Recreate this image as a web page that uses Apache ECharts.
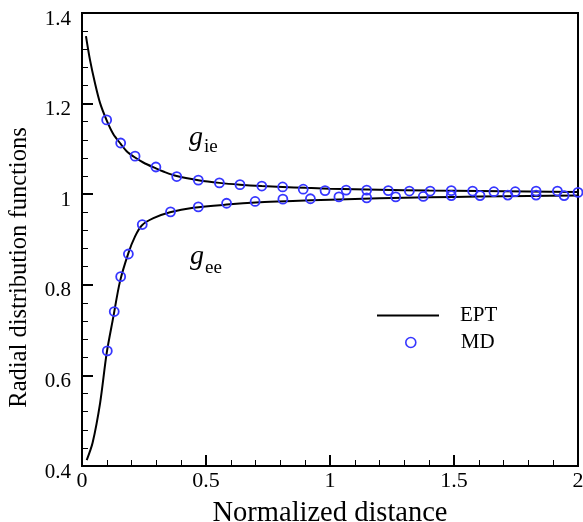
<!DOCTYPE html>
<html><head><meta charset="utf-8">
<script src="https://cdn.jsdelivr.net/npm/echarts@6/dist/echarts.min.js"></script>
<style>html,body{margin:0;padding:0;background:#fff}#c{width:583px;height:522px}</style>
</head><body><div id="c"></div>
<script>
// EPT curve for g_ie
const eptIeX = [0.016,0.032,0.052,0.073,0.0995,0.126,0.156,0.180,0.214,0.247,0.298,0.328,0.382,0.469,0.554,0.637,0.725,0.809,0.9,1.0,1.2,1.4,1.6,1.8,2.0];
const eptIeY = [1.349,1.297,1.246,1.201,1.163,1.133,1.111,1.095,1.081,1.070,1.057,1.050,1.040,1.031,1.025,1.021,1.018,1.016,1.014,1.012,1.010,1.008,1.007,1.006,1.005];
// EPT curve for g_ee
const eptEeX = [0.019,0.043,0.073,0.0995,0.126,0.153,0.187,0.214,0.241,0.288,0.355,0.449,0.583,0.718,0.85,1.0,1.2,1.4,1.6,1.8,2.0];
const eptEeY = [0.413,0.452,0.539,0.649,0.728,0.807,0.870,0.907,0.931,0.947,0.960,0.970,0.977,0.982,0.985,0.988,0.991,0.993,0.995,0.996,0.997];
// MD points for g_ie
const mdIeX = [0.0995,0.156,0.214,0.298,0.382,0.469,0.554,0.637,0.725,0.809,0.892,0.980,1.065,1.148,1.235,1.320,1.404,1.489,1.575,1.661,1.747,1.831,1.917,2.0];
const mdIeY = [1.164,1.113,1.084,1.060,1.039,1.031,1.025,1.021,1.018,1.016,1.011,1.008,1.009,1.009,1.008,1.007,1.007,1.008,1.007,1.0055,1.0055,1.007,1.007,1.004];
// MD points for g_ee
const mdEeX = [0.102,0.130,0.156,0.187,0.243,0.357,0.469,0.583,0.698,0.810,0.921,1.036,1.148,1.265,1.376,1.489,1.605,1.717,1.831,1.944];
const mdEeY = [0.654,0.741,0.818,0.868,0.933,0.961,0.972,0.980,0.984,0.989,0.990,0.994,0.992,0.994,0.995,0.997,0.997,0.998,0.998,0.997];
// tick labels
const xTickLabels = {0:'0',0.5:'0.5',1:'1',1.5:'1.5',2:'2'};
const yTickLabels = {0.4:'0.4',0.6:'0.6',0.8:'0.8',1:'1',1.2:'1.2',1.4:'1.4'};

const zip = (xs, ys) => xs.map((x, i) => [x, ys[i]]);
const FONT = '"Liberation Serif", "Times New Roman", serif';
const BLUE = '#3636ff';

const chart = echarts.init(document.getElementById('c'));
chart.setOption({
  animation: false,
  backgroundColor: '#fff',
  grid: {left: 82, right: 5, top: 13, bottom: 56, show: true, borderColor: '#000', borderWidth: 2,
         backgroundColor: 'transparent', outerBoundsMode: 'none', containLabel: false},
  xAxis: {
    type: 'value', min: 0, max: 2, interval: 0.5,
    name: 'Normalized distance', nameLocation: 'middle', nameGap: 33, nameMoveOverlap: false,
    nameTextStyle: {fontFamily: FONT, fontSize: 28.5, color: '#000'},
    axisLine: {lineStyle: {color: '#000', width: 2}},
    axisTick: {inside: true, length: 11, lineStyle: {color: '#000', width: 2}},
    minorTick: {show: true, splitNumber: 5, length: 6, lineStyle: {color: '#000', width: 1}},
    splitLine: {show: false},
    axisLabel: {fontFamily: FONT, fontSize: 22, color: '#000', margin: 4,
      formatter: v => xTickLabels[v] !== undefined ? xTickLabels[v] : String(v)}
  },
  yAxis: {
    type: 'value', min: 0.4, max: 1.4, interval: 0.2,
    name: 'Radial distribution functions', nameLocation: 'middle', nameGap: 50, nameMoveOverlap: false,
    nameTextStyle: {fontFamily: FONT, fontSize: 24.5, color: '#000', padding: [0, 56, 0, 0]},
    axisLine: {lineStyle: {color: '#000', width: 2}},
    axisTick: {inside: true, length: 11, lineStyle: {color: '#000', width: 2}},
    minorTick: {show: true, splitNumber: 5, length: 6, lineStyle: {color: '#000', width: 1}},
    splitLine: {show: false},
    axisLabel: {fontFamily: FONT, fontSize: 21, color: '#000', margin: 11, verticalAlign: 'top', lineHeight: 12,
      formatter: v => { const k = Math.round(v * 10) / 10; return yTickLabels[k] !== undefined ? yTickLabels[k] : String(v); }}
  },
  legend: [
    {data: [{name: 'EPT', icon: 'rect', itemStyle: {color: '#000'}}], left: 372, top: 300, orient: 'vertical',
     itemWidth: 62, itemHeight: 2,
     textStyle: {fontFamily: FONT, fontSize: 21, color: '#000', lineHeight: 20, padding: [0, 0, 0, 16]}},
    {data: [{name: 'MD', icon: 'circle', itemStyle: {color: '#fff', borderColor: BLUE, borderWidth: 1.6}}],
     left: 400, top: 327, orient: 'vertical', itemWidth: 10, itemHeight: 10,
     textStyle: {fontFamily: FONT, fontSize: 21, color: '#000', lineHeight: 20, padding: [0, 0, 0, 40]}}
  ],
  series: [
    {name: 'EPT', type: 'line', data: zip(eptIeX, eptIeY), symbol: 'none', showSymbol: false,
     smooth: 0.3, lineStyle: {color: '#000', width: 2}, itemStyle: {color: '#000'}, z: 2},
    {name: 'EPT', type: 'line', data: zip(eptEeX, eptEeY), symbol: 'none', showSymbol: false,
     smooth: 0.3, lineStyle: {color: '#000', width: 2}, itemStyle: {color: '#000'}, z: 2},
    {name: 'MD', type: 'scatter', data: zip(mdIeX, mdIeY), symbol: 'circle', symbolSize: 9,
     itemStyle: {color: 'rgba(255,255,255,0)', borderColor: BLUE, borderWidth: 1.8, opacity: 1}, z: 3},
    {name: 'MD', type: 'scatter', data: zip(mdEeX, mdEeY), symbol: 'circle', symbolSize: 9,
     itemStyle: {color: 'rgba(255,255,255,0)', borderColor: BLUE, borderWidth: 1.8, opacity: 1}, z: 3}
  ],
  graphic: [
    {type: 'text', x: 189, y: 138, style: {text: 'g', font: 'italic 28px "Liberation Serif"', fill: '#000', verticalAlign: 'middle'}},
    {type: 'text', x: 204, y: 147, style: {text: 'ie', font: '19px "Liberation Serif"', fill: '#000', verticalAlign: 'middle'}},
    {type: 'text', x: 190, y: 257, style: {text: 'g', font: 'italic 28px "Liberation Serif"', fill: '#000', verticalAlign: 'middle'}},
    {type: 'text', x: 205, y: 268, style: {text: 'ee', font: '19px "Liberation Serif"', fill: '#000', verticalAlign: 'middle'}}
  ]
});
</script></body></html>
